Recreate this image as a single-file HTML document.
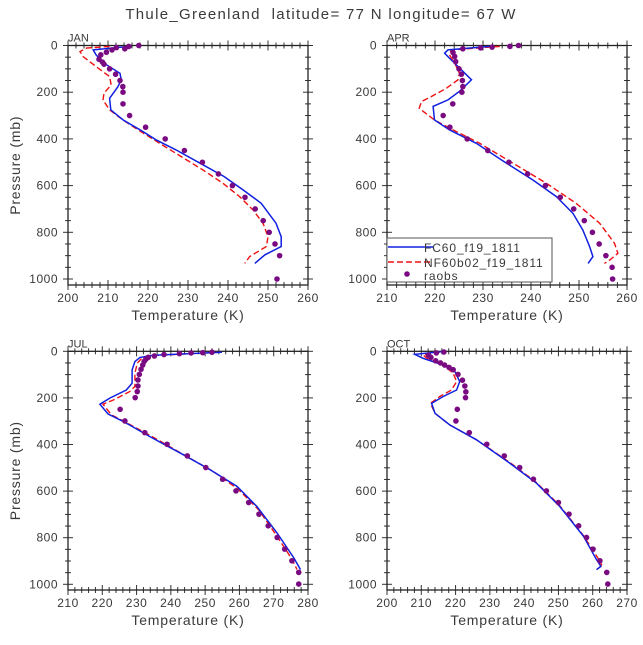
<!DOCTYPE html>
<html><head><meta charset="utf-8"><style>
body{margin:0;background:#fff;}
svg text{font-family:"Liberation Sans",sans-serif;fill:#3a3a3a;white-space:pre;}
</style></head><body>
<svg id="s" width="643" height="640" xmlns="http://www.w3.org/2000/svg">
<text x="321" y="19" text-anchor="middle" font-size="15" letter-spacing="1.3">Thule_Greenland  latitude= 77 N longitude= 67 W</text>
</svg>
<script>
const janP=[0,4,9,14,19,29,40,59,71,80,100,123,150,176,200,250,300,350,400,450,500,550,600,650,700,750,800,850,900,1000];
const janObs=[217.7,215.2,212.1,214.2,211,209.6,208.2,207.75,208.6,209,210.4,211.9,213,213.7,213.75,213.75,215.4,219.4,224.3,229.1,233.6,237.6,241.1,244.25,246.8,248.8,250.3,251.75,252.9,252.25];
const janBlueP=[4,19,40,76,119,147,176,226,276,319,361,404,447,504,561,619,676,761,819,861,897,933];
const janBlueT=[215.4,206.3,207,209,213,213.3,212.5,210.4,210.7,213.8,218,222,227,233,239,243.8,248.3,252,253.3,253.3,249.2,246.7];
const janRedP=[4,11,26,47,90,133,169,204,233,276,319,361,419,476,533,590,647,704,761,819,861,904,933];
const janRedT=[210.4,204.6,203,203.75,207,210.4,210.8,209,208.75,210.4,213.75,217.5,222.9,228.3,233.75,238.75,242.9,246.25,248.75,250,249.6,245.4,244.2];
const aprP=[0,4,7,10,14,30,47,69,100,123,150,176,200,250,300,350,400,450,500,550,600,650,700,750,800,850,900,950,1000];
const aprObs=[237.4,235.6,231.9,229.5,225.8,223.75,224.1,224.3,225,225.5,225.7,225.8,225.6,223.7,221.7,223.1,226.7,231,235.4,239.3,243,246.1,248.9,251.1,252.8,254.2,255.6,256.9,257];
const aprBlueP=[4,19,33,54,90,147,196,233,261,319,361,419,504,576,647,719,790,861,904,933];
const aprBlueT=[231.4,222.7,222,223,224.8,227.6,225.1,222.7,219.6,219.9,223,228.6,234.9,240.4,245.3,248.75,250.8,252.2,252.9,251.9];
const aprRedP=[4,19,40,76,119,147,183,219,240,269,319,361,419,504,590,676,761,847,890,919,933];
const aprRedT=[233.5,223.4,223,224.1,225.1,224.8,222.4,219.2,217.2,216.7,219.9,223.7,229.3,236.25,243.2,249.4,254.3,257.4,258.1,256.4,255.3];
const julP=[4,6,7,10,14,20,26,34,44,59,77,99,123,149,173,199,249,299,349,399,449,499,549,599,649,699,749,799,849,899,949,999];
const julObs=[252,249.3,245.9,242.5,238,235.2,233.4,232.7,232.2,231.8,231.3,230.8,230.4,230.4,230.2,229.6,225.2,226.6,232.4,238.9,244.8,250.2,255.1,259,262.7,265.7,268.4,271,273.2,275.3,277.3,277.3];
const julBlueP=[4,17,26,44,80,137,166,201,227,269,301,366,444,509,580,666,780,887,937];
const julBlueT=[254.9,234.9,231,229.5,228.7,228.7,227,222.2,219.3,221.7,226.1,233.9,243.7,251.5,259.3,265.1,271,275.9,277.8];
const julRedP=[4,17,30,51,94,151,173,209,227,273,306,369,451,516,594,680,794,894,937];
const julRedT=[254.9,235.9,231.5,230.2,229.5,229.5,228,223.2,220.2,222.7,227,234.9,244.6,252.4,259.8,265.6,271,275.4,276.8];
const octP=[3,7,17,26,41,50,59,69,79,99,124,149,174,199,249,299,349,399,449,499,549,599,649,699,749,799,849,899,949,999];
const octObs=[216.6,214.4,212.1,212.8,214.2,215.6,216.8,218.1,219.3,220.7,222,222.7,223,222.9,220.5,220.1,224,229.1,234.2,238.7,242.7,246.5,250,253.1,255.9,258.2,260.1,262.1,264.1,264.4];
const octBlueP=[1,13,30,59,87,130,166,194,223,266,316,380,480,566,666,794,894,923,937];
const octBlueT=[216.4,208.1,210.5,216.4,219.8,221.2,220.3,216.4,213,214,218.3,226.1,235.8,243.6,250.4,257.3,261.1,262.4,261.1];
const octRedP=[3,16,34,63,94,130,166,194,223,266,316,380,477,563,663,791,887,916,934];
const octRedT=[215.4,210.5,212,216.8,219.3,220.3,218.8,215.4,212.7,214,218.3,226.1,235.8,243.6,250.4,257.3,261.5,262.6,261.7];
const xTicksJan=[200,210,220,230,240,250,260];
const xTicksApr=[210,220,230,240,250,260];
const xTicksJul=[210,220,230,240,250,260,270,280];
const xTicksOct=[200,210,220,230,240,250,260,270];
const yTicks=[0,200,400,600,800,1000];

const NS="http://www.w3.org/2000/svg";
const svg=document.getElementById('s');
function mk(tag,attrs,parent){const e=document.createElementNS(NS,tag);for(const k in attrs)e.setAttribute(k,attrs[k]);(parent||svg).appendChild(e);return e;}

function panel(cfg){
  const g=mk('g',{});
  
  
  const L=cfg.x0,R=cfg.x1,T0=cfg.y0,B=cfg.yb;
  const sx=t=>L+(t-cfg.tmin)/(cfg.tmax-cfg.tmin)*(R-L);
  const sy=p=>T0+p/1000*(cfg.y1000-T0);
  const cid='c'+cfg.name;
  const cp=mk('clipPath',{id:cid},g);mk('rect',{x:L,y:T0,width:R-L,height:B-T0},cp);
  const lbl=mk('text',{x:L,y:T0-4,'font-size':11},g);lbl.textContent=cfg.name;
  
  
  for(let t=cfg.tmin;t<=cfg.tmax+0.01;t+=2){
    const major=Math.abs(t%10)<0.01;const len=major?5:3;
    mk('line',{x1:sx(t),x2:sx(t),y1:T0-len,y2:T0+len,stroke:'#333','stroke-width':1},g);
    mk('line',{x1:sx(t),x2:sx(t),y1:B-len,y2:B+len,stroke:'#333','stroke-width':1},g);
  }
  for(let p=0;p<=1000;p+=50){
    const major=p%200===0;const len=major?5:3;
    mk('line',{x1:L-len,x2:L+len,y1:sy(p),y2:sy(p),stroke:'#333'},g);
    mk('line',{x1:R-len,x2:R+len,y1:sy(p),y2:sy(p),stroke:'#333'},g);
  }
  mk('rect',{x:L,y:T0,width:R-L,height:B-T0,fill:'none',stroke:'#222','stroke-width':1.3},g);
  cfg.xt.forEach(t=>{const e=mk('text',{x:sx(t),y:B+17,'text-anchor':'middle','font-size':12,'letter-spacing':'0.5'},g);e.textContent=t;
    
    });
  yTicks.forEach(p=>{const e=mk('text',{x:L-10,y:sy(p)+4,'text-anchor':'end','font-size':12,'letter-spacing':'0.5'},g);e.textContent=p;
    
    });
  const xt=mk('text',{x:(L+R)/2,y:B+35,'text-anchor':'middle','font-size':14,'letter-spacing':'0.8'},g);xt.textContent='Temperature (K)';
  
  
  if(cfg.ylab){const yt=mk('text',{x:0,y:0,'text-anchor':'middle','font-size':14,'letter-spacing':'0.8',transform:`translate(20,${(T0+B)/2}) rotate(-90)`},g);yt.textContent='Pressure (mb)';
    
    }
  const pts=(P,Tv)=>P.map((p,i)=>sx(Tv[i]).toFixed(1)+','+sy(p).toFixed(1)).join(' ');
  const red=mk('polyline',{points:pts(cfg.rp,cfg.rt),fill:'none',stroke:'#f01010','stroke-width':1.4,'stroke-dasharray':'6,3','clip-path':`url(#${cid})`},g);
  
  
  const blue=mk('polyline',{points:pts(cfg.bp,cfg.bt),fill:'none',stroke:'#1020e0','stroke-width':1.5,'clip-path':`url(#${cid})`},g);
  
  
  cfg.op.forEach((p,i)=>{const c=mk('circle',{cx:sx(cfg.ot[i]),cy:sy(p),r:2.8,fill:'#7a0a82'},g);
    
    });
}
panel({name:'JAN',x0:68,x1:308,y0:45.5,y1000:279,yb:285,tmin:200,tmax:260,xt:xTicksJan,ylab:true,rp:janRedP,rt:janRedT,bp:janBlueP,bt:janBlueT,op:janP,ot:janObs});
panel({name:'APR',x0:387,x1:627,y0:45.5,y1000:279,yb:285,tmin:210,tmax:260,xt:xTicksApr,ylab:false,rp:aprRedP,rt:aprRedT,bp:aprBlueP,bt:aprBlueT,op:aprP,ot:aprObs});
panel({name:'JUL',x0:68,x1:308,y0:351.3,y1000:584.3,yb:590,tmin:210,tmax:280,xt:xTicksJul,ylab:true,rp:julRedP,rt:julRedT,bp:julBlueP,bt:julBlueT,op:julP,ot:julObs});
panel({name:'OCT',x0:387,x1:627,y0:351.3,y1000:584.3,yb:590,tmin:200,tmax:270,xt:xTicksOct,ylab:false,rp:octRedP,rt:octRedT,bp:octBlueP,bt:octBlueT,op:octP,ot:octObs});
const lg=mk('g',{});


mk('rect',{x:387,y:238,width:165,height:44,fill:'#fff',stroke:'#555'},lg);
mk('line',{x1:388,x2:433,y1:247,y2:247,stroke:'#1020e0','stroke-width':1.5},lg);
mk('line',{x1:388,x2:433,y1:262,y2:262,stroke:'#f01010','stroke-width':1.4,'stroke-dasharray':'6,3'},lg);
mk('circle',{cx:407,cy:274,r:2.8,fill:'#7a0a82'},lg);
[['FC60_f19_1811',252],['NF60b02_f19_1811',267],['raobs',280]].forEach(([t,y])=>{const e=mk('text',{x:424,y:y,'font-size':12,'letter-spacing':'0.9'},lg);e.textContent=t;
  
  });
</script>
</body></html>
